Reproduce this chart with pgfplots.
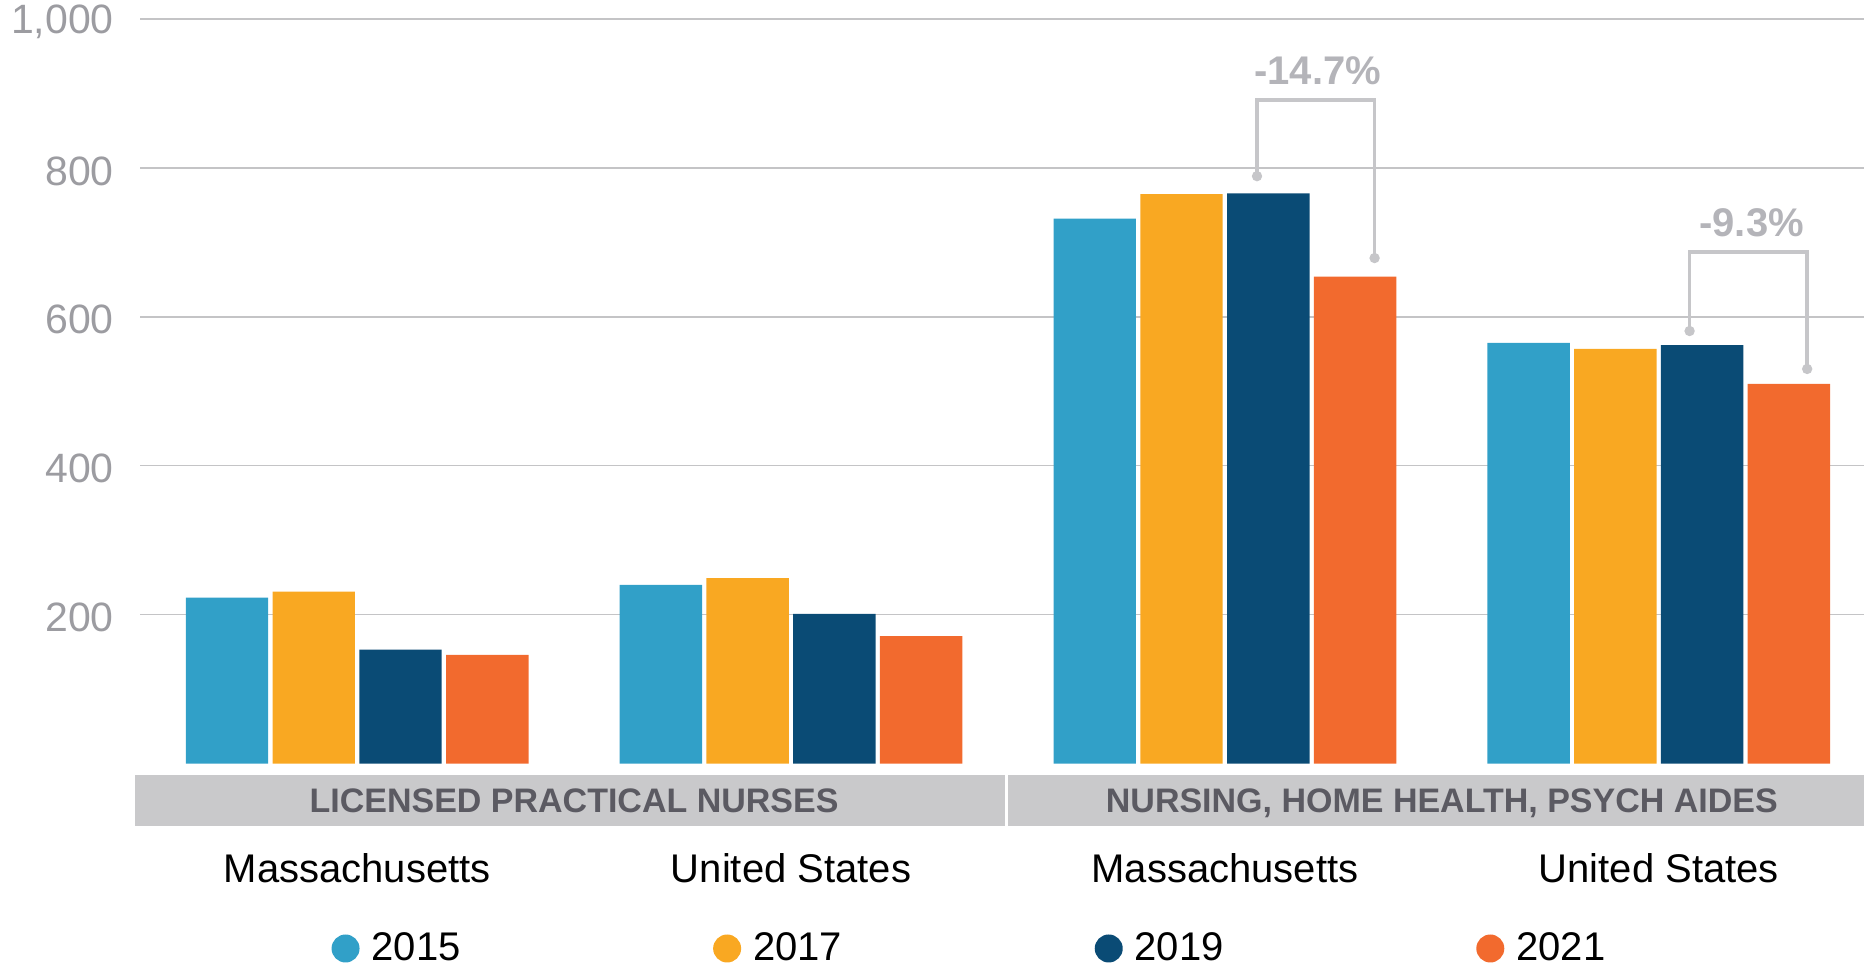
\documentclass[border=0pt]{standalone}
\usepackage{fontspec}
\setmainfont{Liberation Sans}
\usepackage{pgfplots}
\pgfplotsset{compat=1.18}
\definecolor{cA}{HTML}{31A0C8}
\definecolor{cB}{HTML}{F9A822}
\definecolor{cC}{HTML}{0A4B75}
\definecolor{cD}{HTML}{F26A2E}
\definecolor{gridgray}{HTML}{C4C4C6}
\definecolor{ticktext}{HTML}{9C9CA1}
\definecolor{bandgray}{HTML}{C9C9CB}
\definecolor{bandtext}{HTML}{5B5A62}
\definecolor{annot}{HTML}{C6C6C9}
\definecolor{annottext}{HTML}{B4B4B9}

\begin{document}
\begin{tikzpicture}
\useasboundingbox (0,0) rectangle (932pt,483pt);
\begin{axis}[
  at={(70.1pt,101.25pt)}, anchor=south west,
  scale only axis, width=861.9pt, height=372.2pt,
  xmin=-0.5, xmax=3.473, ymin=0, ymax=1000,
  clip=false,
  ybar, bar width=0.19,
  axis line style={draw=none}, major tick length=0pt,
  ytick={200,400,600,800,1000},
  ymajorgrids, grid style={draw=gridgray, line width=0.7pt},
  /pgf/number format/assume math mode=true,
  yticklabel style={font=\fontsize{20.5}{24}\selectfont, text=ticktext, anchor=east, inner sep=0pt, xshift=-13pt, yshift=-1.5pt},
  xtick={0,1,2,3},
  xticklabels={Massachusetts, United States, Massachusetts, United States},
  xticklabel style={font=\fontsize{20}{24}\selectfont, text=black, anchor=base, inner sep=0pt, yshift=-59.25pt},
  legend columns=4,
  legend cell align=left,
  legend image code/.code={\fill[#1,draw=none] (0pt,0pt) circle (7pt);},
  legend style={at={(0.1073,-0.2485)}, anchor=west, draw=none, fill=none,
    font=\fontsize{20}{24}\selectfont, column sep=6pt, nodes={inner sep=0pt},
    /tikz/every even column/.append style={column sep=126.3pt}},
]
% group bands
\fill[bandgray] (axis cs:-0.512,-15.6) rectangle (axis cs:1.493,-84.2);
\fill[bandgray] (axis cs:1.501,-15.6) rectangle (axis cs:3.6,-84.2);
\node[anchor=base, text=bandtext, font=\fontsize{17}{20}\selectfont\bfseries, inner sep=0pt]
  at (axis cs:0.5,-66.4) {LICENSED PRACTICAL NURSES};
\node[anchor=base, text=bandtext, font=\fontsize{17}{20}\selectfont\bfseries, inner sep=0pt]
  at (axis cs:2.5,-66.4) {NURSING, HOME HEALTH, PSYCH AIDES};

\addplot[fill=cA, draw=none, bar shift=-0.3] coordinates {(0,223) (1,240) (2,732) (3,565)};
\addplot[fill=cB, draw=none, bar shift=-0.1] coordinates {(0,231) (1,249) (2,765) (3,557)};
\addplot[fill=cC, draw=none, bar shift=0.1] coordinates {(0,153) (1,201) (2,766) (3,562)};
\addplot[fill=cD, draw=none, bar shift=0.3] coordinates {(0,146) (1,171) (2,654) (3,510)};
\legend{2015,2017,2019,2021}

% change brackets
\draw[annot, line width=1.8pt] (axis cs:2.074,789) -- (axis cs:2.074,891) -- (axis cs:2.345,891) -- (axis cs:2.345,679);
\fill[annot] (axis cs:2.074,789) circle (2.6pt);
\fill[annot] (axis cs:2.345,679) circle (2.6pt);
\node[text=annottext, font=\fontsize{20}{24}\selectfont\bfseries] at (axis cs:2.214,931) {-14.7\%};
\draw[annot, line width=1.8pt] (axis cs:3.071,581) -- (axis cs:3.071,687) -- (axis cs:3.342,687) -- (axis cs:3.342,530);
\fill[annot] (axis cs:3.071,581) circle (2.6pt);
\fill[annot] (axis cs:3.342,530) circle (2.6pt);
\node[text=annottext, font=\fontsize{20}{24}\selectfont\bfseries] at (axis cs:3.214,727) {-9.3\%};
\end{axis}
\end{tikzpicture}
\end{document}
